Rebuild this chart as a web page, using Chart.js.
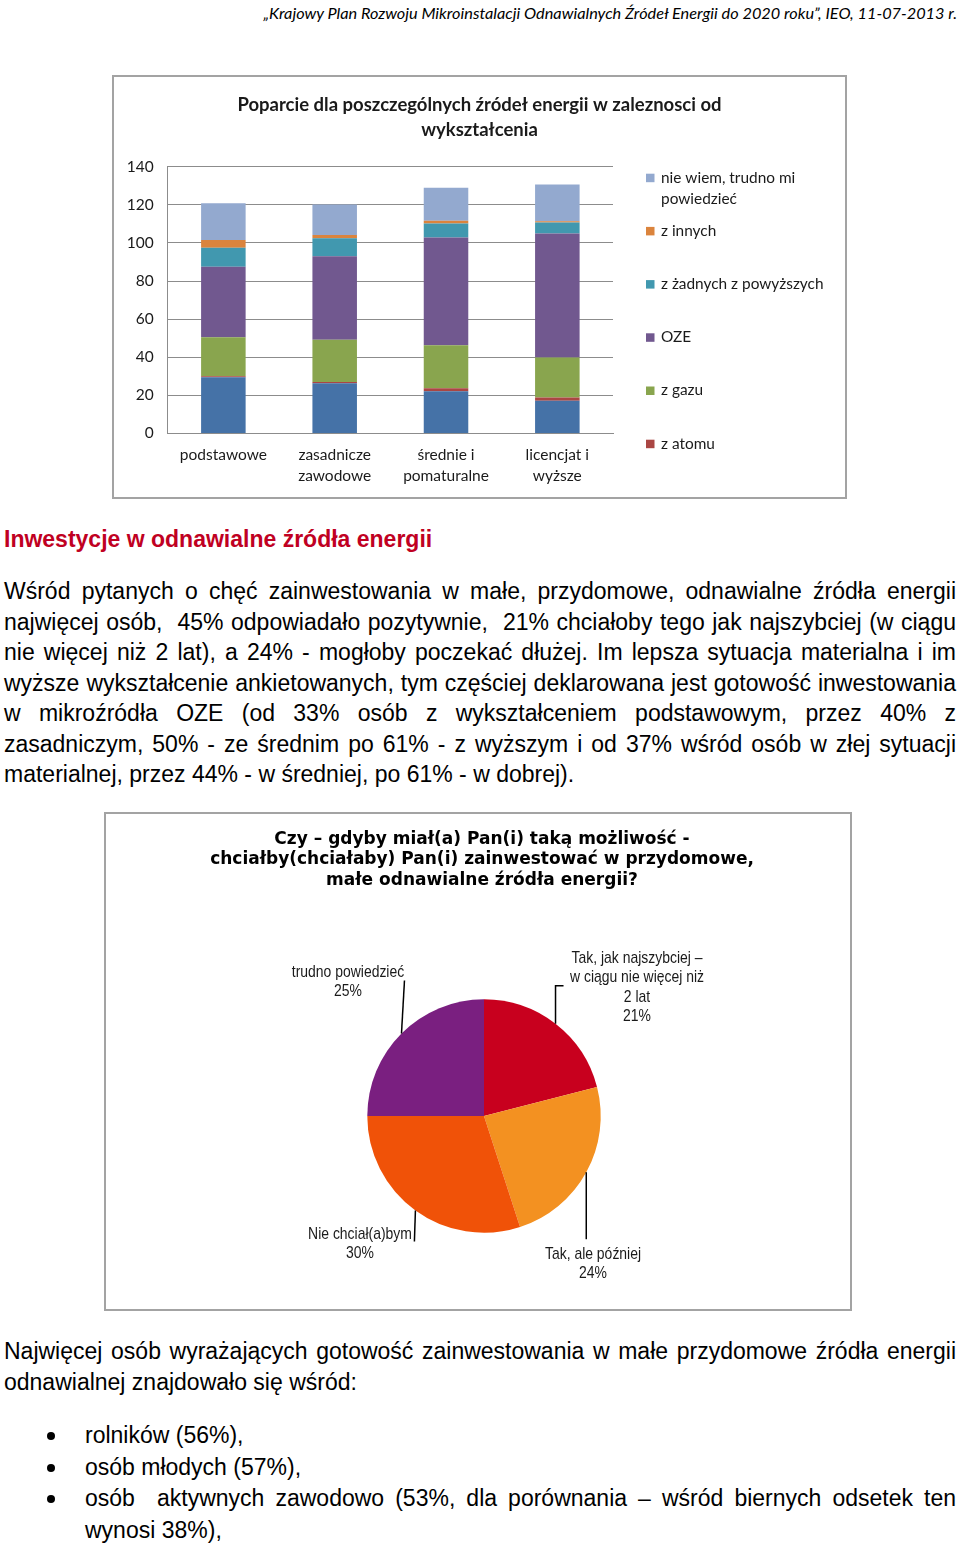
<!DOCTYPE html>
<html lang="pl">
<head>
<meta charset="utf-8">
<script src="https://cdn.jsdelivr.net/npm/chart.js@4.4.1/dist/chart.umd.min.js"></script>
<style>
  html, body { margin: 0; padding: 0; background: #fff; }
  body { width: 960px; height: 1544px; position: relative; overflow: hidden; font-family: "Liberation Sans", Arial, sans-serif; color: #000; }
  .hdr { position: absolute; top: 2px; right: 3px; font-family: Lato, "Open Sans", sans-serif; font-style: italic; font-size: 16.3px; line-height: 22px; white-space: nowrap; }
  .box { position: absolute; border: 2px solid #a3a3a3; box-sizing: border-box; background: #fff; }
  .box canvas { position: absolute; left: 0; top: 0; }
  .h2 { position: absolute; left: 4px; top: 524px; font-size: 23px; line-height: 30.5px; font-weight: bold; color: #c00022; white-space: nowrap; }
  .par { position: absolute; left: 4px; width: 952px; font-size: 23px; line-height: 30.5px; }
  .par div { white-space: nowrap; text-align: justify; text-align-last: justify; }
  .par div.last { text-align-last: left; }
  .list { position: absolute; left: 85px; width: 871px; font-size: 23px; line-height: 31.7px; }
  .list div { position: relative; white-space: nowrap; }
  .list div.j { text-align: justify; text-align-last: justify; }
  .list .dot { position: absolute; left: -38px; top: 12px; width: 8px; height: 8px; border-radius: 50%; background: #000; }
</style>
</head>
<body>
<div class="hdr">„Krajowy Plan Rozwoju Mikroinstalacji Odnawialnych Źródeł Energii do 2020 roku”, IEO, 11-07-2013 r.</div>

<div class="box" style="left:112px; top:75px; width:735px; height:424px;">
  <canvas id="bar" width="731" height="420" style="width:731px;height:420px;"></canvas>
</div>

<div class="h2">Inwestycje w odnawialne źródła energii</div>

<div class="par" style="top:576px;">
  <div>Wśród pytanych o chęć zainwestowania w małe, przydomowe, odnawialne źródła energii</div>
  <div>najwięcej osób,&nbsp; 45% odpowiadało pozytywnie,&nbsp; 21% chciałoby tego jak najszybciej (w ciągu</div>
  <div>nie więcej niż 2 lat), a 24% - mogłoby poczekać dłużej. Im lepsza sytuacja materialna i im</div>
  <div>wyższe wykształcenie ankietowanych, tym częściej deklarowana jest gotowość inwestowania</div>
  <div>w mikroźródła OZE (od 33% osób z wykształceniem podstawowym, przez 40% z</div>
  <div>zasadniczym, 50% - ze średnim po 61% - z wyższym i od 37% wśród osób w złej sytuacji</div>
  <div class="last">materialnej, przez 44% - w średniej, po 61% - w dobrej).</div>
</div>

<div class="box" style="left:104px; top:812px; width:748px; height:499px;">
  <canvas id="pie" width="744" height="495" style="width:744px;height:495px;"></canvas>
</div>

<div class="par" style="top:1336px;">
  <div>Najwięcej osób wyrażających gotowość zainwestowania w małe przydomowe źródła energii</div>
  <div class="last">odnawialnej znajdowało się wśród:</div>
</div>

<div class="list" style="top:1420px;">
  <div><span class="dot"></span>rolników (56%),</div>
  <div><span class="dot"></span>osób młodych (57%),</div>
  <div class="j"><span class="dot"></span>osób&nbsp; aktywnych zawodowo (53%, dla porównania – wśród biernych odsetek ten</div>
  <div>wynosi 38%),</div>
</div>

<script>
// ---------- Bar chart data ----------
const categories = [['podstawowe'], ['zasadnicze', 'zawodowe'], ['średnie i', 'pomaturalne'], ['licencjat i', 'wyższe']];
const seriesNames = ['z węgla', 'z atomu', 'z gazu', 'OZE', 'z żadnych z powyższych', 'z innych', 'nie wiem, trudno mi powiedzieć'];
const zWegla   = [29.5, 26.3, 22.1, 17.2];
const zAtomu   = [0.5, 0.7, 1.6, 1.7];
const zGazu    = [20.5, 22.1, 22.6, 20.9];
const oze      = [37.0, 43.9, 56.5, 65.1];
const zZadnych = [10.0, 9.5, 7.4, 5.8];
const zInnych  = [4.0, 1.7, 1.4, 0.7];
const nieWiem  = [19.3, 16.0, 17.3, 19.3];
const yMin = 0, yMax = 140, yStep = 20;
const barTitle = ['Poparcie dla poszczególnych źródeł energii w zaleznosci od', 'wykształcenia'];
const legendShown = ['nie wiem, trudno mi powiedzieć', 'z innych', 'z żadnych z powyższych', 'OZE', 'z gazu', 'z atomu'];
const legendText = [['nie wiem, trudno mi', 'powiedzieć'], ['z innych'], ['z żadnych z powyższych'], ['OZE'], ['z gazu'], ['z atomu']];

// ---------- Pie chart data ----------
const pieTitle = ['Czy – gdyby miał(a) Pan(i) taką możliwość -', 'chciałby(chciałaby) Pan(i) zainwestować w przydomowe,', 'małe odnawialne źródła energii?'];
const pieLabels = [['Tak, jak najszybciej –', 'w ciągu nie więcej niż', '2 lat'], ['Tak, ale później'], ['Nie chciał(a)bym'], ['trudno powiedzieć']];
const pieValues = [21, 24, 30, 25];

const barColors = ['#4572a7', '#aa4643', '#89a54e', '#71588f', '#4198af', '#db843d', '#93a9cf'];
const pieColors = ['#c8001e', '#f39121', '#f05208', '#7a1f80'];

const calibri = 'Lato, "Open Sans", sans-serif';
const seriesValues = [zWegla, zAtomu, zGazu, oze, zZadnych, zInnych, nieWiem];

function titlePlugin(lines, font, color, firstY, lineH, cx) {
  return {
    id: 'boxTitle',
    afterDraw(chart) {
      const ctx = chart.ctx;
      ctx.save();
      ctx.font = font;
      ctx.fillStyle = color;
      ctx.textAlign = 'center';
      ctx.textBaseline = 'middle';
      lines.forEach((t, k) => ctx.fillText(t, cx, firstY + k * lineH));
      ctx.restore();
    }
  };
}

const legendPlugin = {
  id: 'sideLegend',
  afterDraw(chart) {
    const ctx = chart.ctx;
    const ca = chart.chartArea;
    ctx.save();
    ctx.font = '15.4px ' + calibri;
    ctx.textBaseline = 'middle';
    legendShown.forEach((name, i) => {
      const ds = chart.data.datasets.find(d => d.label === name);
      const y = ca.top + 11 + i * 53.2;
      const x = ca.right + 33;
      ctx.fillStyle = ds.backgroundColor;
      ctx.fillRect(x, y - 4, 8.5, 8.5);
      ctx.fillStyle = '#1a1a1a';
      legendText[i].forEach((t, k) => ctx.fillText(t, x + 15, y + k * 21));
    });
    ctx.restore();
  }
};

new Chart(document.getElementById('bar'), {
  type: 'bar',
  data: {
    labels: categories,
    datasets: seriesNames.map((n, i) => ({
      label: n,
      data: seriesValues[i],
      backgroundColor: barColors[i],
      borderWidth: 0,
      barPercentage: 0.4,
      categoryPercentage: 1.0
    }))
  },
  options: {
    responsive: false,
    animation: false,
    layout: { padding: { left: 0, right: 232, top: 89.7, bottom: 0 } },
    plugins: {
      legend: { display: false },
      tooltip: { enabled: false },
      title: { display: false }
    },
    scales: {
      x: {
        stacked: true,
        grid: { display: false, drawTicks: false },
        border: { display: true, color: '#8c8c8c' },
        ticks: { color: '#1a1a1a', font: { family: calibri, size: 15.5, lineHeight: 21 / 15.5 }, padding: 10.8, maxRotation: 0, autoSkip: false }
      },
      y: {
        stacked: true,
        min: yMin, max: yMax,
        afterFit(scale) { scale.width = 53.7; },
        grid: { color: '#8c8c8c', drawTicks: false },
        border: { display: true, color: '#8c8c8c' },
        ticks: { stepSize: yStep, color: '#1a1a1a', font: { family: calibri, size: 15.5 }, padding: 14 }
      }
    }
  },
  plugins: [legendPlugin, titlePlugin(barTitle, 'bold 18.5px ' + calibri, '#1a1a1a', 28, 25, 365.5)]
});

// ---------- Pie ----------
// leader: [dx1, dy1, dx2, dy2] relative to slice's edge midpoint; label: [dx, dy] of first line center relative to pie center
const pieLeader = [[0, -38, 8, -38], [0, 67, 0, 67], [-1, 31, -1, 31], [3, -53, 3, -53]];
const pieLabelPos = [[153, -158], [109, 138], [-124, 118], [-136, -144]];

const pieLabelPlugin = {
  id: 'pieLabels',
  afterDraw(chart) {
    const ctx = chart.ctx;
    const meta = chart.getDatasetMeta(0);
    ctx.save();
    meta.data.forEach((arc, i) => {
      const p = arc.getProps(['x', 'y', 'startAngle', 'endAngle', 'outerRadius'], true);
      const mid = (p.startAngle + p.endAngle) / 2;
      const ex = p.x + Math.cos(mid) * p.outerRadius;
      const ey = p.y + Math.sin(mid) * p.outerRadius;
      const L = pieLeader[i];
      ctx.strokeStyle = '#000';
      ctx.lineWidth = 1.5;
      ctx.beginPath();
      ctx.moveTo(ex, ey);
      ctx.lineTo(ex + L[0], ey + L[1]);
      ctx.lineTo(ex + L[2], ey + L[3]);
      ctx.stroke();
      const lines = pieLabels[i].concat([pieValues[i] + '%']);
      ctx.fillStyle = '#1a1a1a';
      ctx.font = '17px "Liberation Sans", Arial, sans-serif';
      ctx.textAlign = 'center';
      ctx.textBaseline = 'middle';
      lines.forEach((t, k) => {
        ctx.save();
        ctx.translate(p.x + pieLabelPos[i][0], p.y + pieLabelPos[i][1] + k * 19.5);
        ctx.scale(0.82, 1);
        ctx.fillText(t, 0, 0);
        ctx.restore();
      });
    });
    ctx.restore();
  }
};

new Chart(document.getElementById('pie'), {
  type: 'pie',
  data: {
    labels: pieLabels.map(l => l.join(' ')),
    datasets: [{ data: pieValues, backgroundColor: pieColors, borderWidth: 0 }]
  },
  options: {
    responsive: false,
    animation: false,
    layout: { padding: { left: 261.3, right: 249.3, top: 185.3, bottom: 76.3 } },
    plugins: {
      legend: { display: false },
      tooltip: { enabled: false },
      title: { display: false }
    }
  },
  plugins: [pieLabelPlugin, titlePlugin(pieTitle, 'bold 17px "DejaVu Sans", Verdana, sans-serif', '#000', 25.5, 20.5, 376)]
});
</script>
</body>
</html>
